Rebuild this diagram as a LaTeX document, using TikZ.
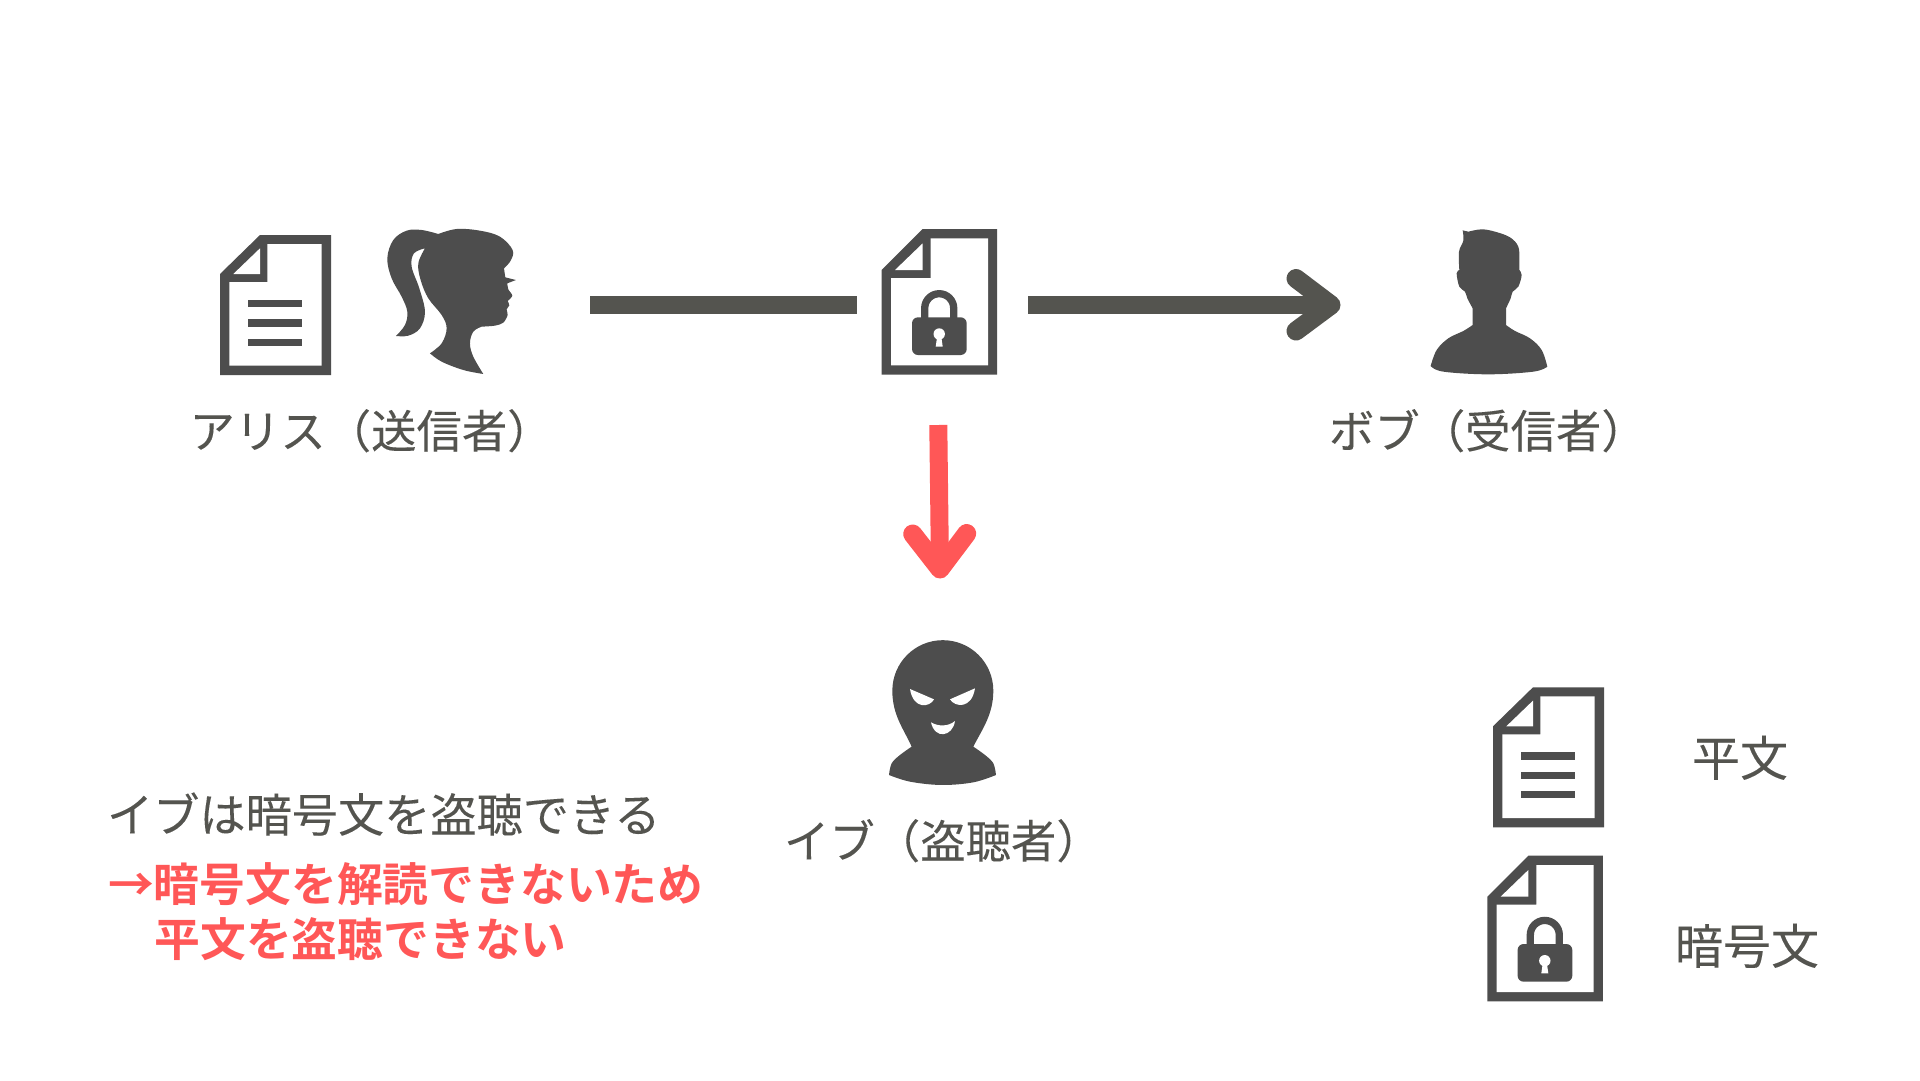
\documentclass[tikz,border=0pt]{standalone}
\usepackage{fontspec}
\newfontfamily\jpfont[FakeBold=0.12]{Noto Sans CJK JP}
\newfontfamily\jpbold{Noto Sans CJK JP Bold}
\definecolor{icon}{HTML}{4D4D4D}
\definecolor{ink}{HTML}{54544F}
\definecolor{alert}{HTML}{FF5757}
\tikzset{
  label45/.style={inner sep=0pt,outer sep=0pt,anchor=base west,text=ink,font=\jpfont\fontsize{45.4}{54}\selectfont},
  label48/.style={inner sep=0pt,outer sep=0pt,anchor=base west,text=ink,font=\jpfont\fontsize{48}{58}\selectfont},
  note46/.style={inner sep=0pt,outer sep=0pt,anchor=base west,text=ink,font=\jpfont\fontsize{46.2}{55}\selectfont},
  alert46/.style={inner sep=0pt,outer sep=0pt,anchor=base west,text=alert,font=\jpbold\fontsize{45.8}{55}\selectfont},
  shaft/.style={line width=18pt,ink,line cap=butt},
  barb/.style={line width=19pt,ink,line cap=round,line join=round},
  plaindoc/.pic={
    \fill[icon] (0,39)--(40,0)--(111,0)--(111,140)--(0,140)--cycle;
    \fill[white] (9.3,47)--(47.3,47)--(47.3,9)--(101.7,9)--(101.7,130.7)--(9.3,130.7)--cycle;
    \fill[white] (40,13.3)--(40,39)--(13.3,39)--cycle;
    \fill[icon] (28.3,65) rectangle (82.3,72.3);
    \fill[icon] (28.3,84.3) rectangle (82.3,91.7);
    \fill[icon] (28.3,103.7) rectangle (82.3,111);
  },
  lockdoc/.pic={
    \fill[icon] (0,41)--(41,0)--(115.5,0)--(115.5,145.7)--(0,145.7)--cycle;
    \fill[white] (9.3,49)--(49,49)--(49,9.3)--(106.3,9.3)--(106.3,136.3)--(9.3,136.3)--cycle;
    \fill[white] (41,14.3)--(41,41)--(13.3,41)--cycle;
    \fill[icon,rounded corners=6pt] (30.3,88.3) rectangle (85,126);
    \draw[icon,line width=7.3pt] (43,92)--(43,79.2) arc[start angle=180,end angle=360,radius=14.5]--(72,92);
    \fill[white] (57.5,105) circle[radius=5.7];
    \fill[white] (55.5,107)--(59.5,107)--(61,117.7)--(54,117.7)--cycle;
  }
}
\begin{document}
\begin{tikzpicture}[x=1pt,y=-1pt]
\useasboundingbox (0,0) rectangle (1920,1080);
\fill[white] (0,0) rectangle (1920,1080);

% documents
\pic at (220,235) {plaindoc};
\pic at (881.7,229) {lockdoc};
\pic at (1493,687.3) {plaindoc};
\pic at (1487.3,855.7) {lockdoc};

% Alice
\begin{scope}[shift={(180,200)},x=0.3333pt,y=-0.3333pt]
\fill[icon]
  plot[smooth,tension=0.6] coordinates {(648,408) (675,375) (682,335) (665,290) (635,235) (622,175) (640,120) (680,92) (725,90) (775,102)}
  -- plot[smooth,tension=0.6] coordinates {(775,102) (830,87) (900,92) (960,110) (998,150) (992,182) (972,205)}
  -- (976,232) -- (1008,240) -- (982,250)
  -- plot[smooth,tension=0.5] coordinates {(982,250) (985,268) (997,287) (983,303)}
  -- plot[smooth,tension=0.5] coordinates {(983,303) (988,316) (980,328) (983,345) (970,368) (945,377) (905,380)}
  -- plot[smooth,tension=0.6] coordinates {(905,380) (880,395) (870,430) (880,470) (910,522)}
  -- plot[smooth,tension=0.6] coordinates {(910,522) (850,510) (785,485) (750,460)}
  -- plot[smooth,tension=0.6] coordinates {(750,460) (785,430) (800,385) (785,345) (745,295) (722,240) (715,190) (735,145)}
  -- plot[smooth,tension=0.6] coordinates {(735,145) (702,160) (695,200) (718,265) (735,335) (720,385) (685,407) (648,408)}
  -- cycle;
\end{scope}

% Bob
\begin{scope}[shift={(1400,210)},x=0.3333pt,y=-0.3333pt]
\fill[icon]
  (188,61) -- plot[smooth,tension=0.6] coordinates {(205,65) (245,58) (285,65) (330,82) (355,110) (358,150) (358,180)}
  -- plot[smooth,tension=0.6] coordinates {(358,180) (365,195) (355,230) (338,245) (332,265) (318,295)}
  -- (318,345)
  -- plot[smooth,tension=0.6] coordinates {(318,345) (345,363) (390,385) (425,420) (442,470)}
  -- plot[smooth,tension=0.6] coordinates {(442,470) (400,485) (265,493) (130,485) (92,468)}
  -- plot[smooth,tension=0.6] coordinates {(92,468) (110,420) (145,385) (190,363) (218,345)}
  -- (218,295)
  -- plot[smooth,tension=0.6] coordinates {(218,295) (202,265) (195,245) (178,230) (170,190) (178,180)}
  -- plot[smooth,tension=0.6] coordinates {(178,180) (177,125) (190,92) (188,61)}
  -- cycle;
\end{scope}

% Eve
\begin{scope}[shift={(860,620)},x=0.3333pt,y=-0.3333pt]
\fill[icon]
  (155,380) .. controls (130,325) and (97,285) .. (97,212)
  arc[start angle=180,end angle=360,radius=151.5]
  .. controls (400,285) and (365,330) .. (340,380)
  -- plot[smooth,tension=0.6] coordinates {(340,380) (375,405) (400,430) (408,465)}
  -- plot[smooth,tension=0.6] coordinates {(408,465) (340,487) (245,495) (150,485) (87,465)}
  -- plot[smooth,tension=0.6] coordinates {(87,465) (95,430) (120,405) (155,380)}
  -- cycle;
\fill[white] (150,207) -- (222,238) .. controls (210,262) and (160,270) .. (150,207) -- cycle;
\fill[white] (345,205) -- (270,238) .. controls (285,262) and (335,268) .. (345,205) -- cycle;
\fill[white] (213,307) .. controls (235,320) and (265,320) .. (285,303) .. controls (278,350) and (225,360) .. (213,307) -- cycle;
\end{scope}

% connectors
\coordinate (a1) at (590,305);
\coordinate (a2) at (857,305);
\coordinate (b1) at (1028,305);
\coordinate (b2) at (1331,305);
\coordinate (bu) at (1296,278.5);
\coordinate (bd) at (1296,331);
\coordinate (c1) at (938.3,425);
\coordinate (c2) at (940,569);
\coordinate (cl) at (912.7,534);
\coordinate (cr) at (966.7,533.5);
\draw[shaft] (a1) -- (a2);
\draw[shaft] (b1) -- (b2);
\draw[barb] (bu) -- (b2) -- (bd);
\draw[shaft,alert] (c1) -- (c2);
\draw[barb,alert] (cl) -- (c2) -- (cr);

% labels
\node[label45] (alice) at (189.5,448) {アリス（送信者）};
\node[label45] (bob) at (1329,448) {ボブ（受信者）};
\node[label45] (eve) at (784,858) {イブ（盗聴者）};
\node[label48] (plain) at (1692,776) {平文};
\node[label48] (cipher) at (1675,964) {暗号文};
\node[note46] (note1) at (107,832) {イブは暗号文を盗聴できる};
\node[alert46] (note2) at (108,901) {→暗号文を解読できないため};
\node[alert46] (note3) at (154.5,956) {平文を盗聴できない};
\end{tikzpicture}
\end{document}
